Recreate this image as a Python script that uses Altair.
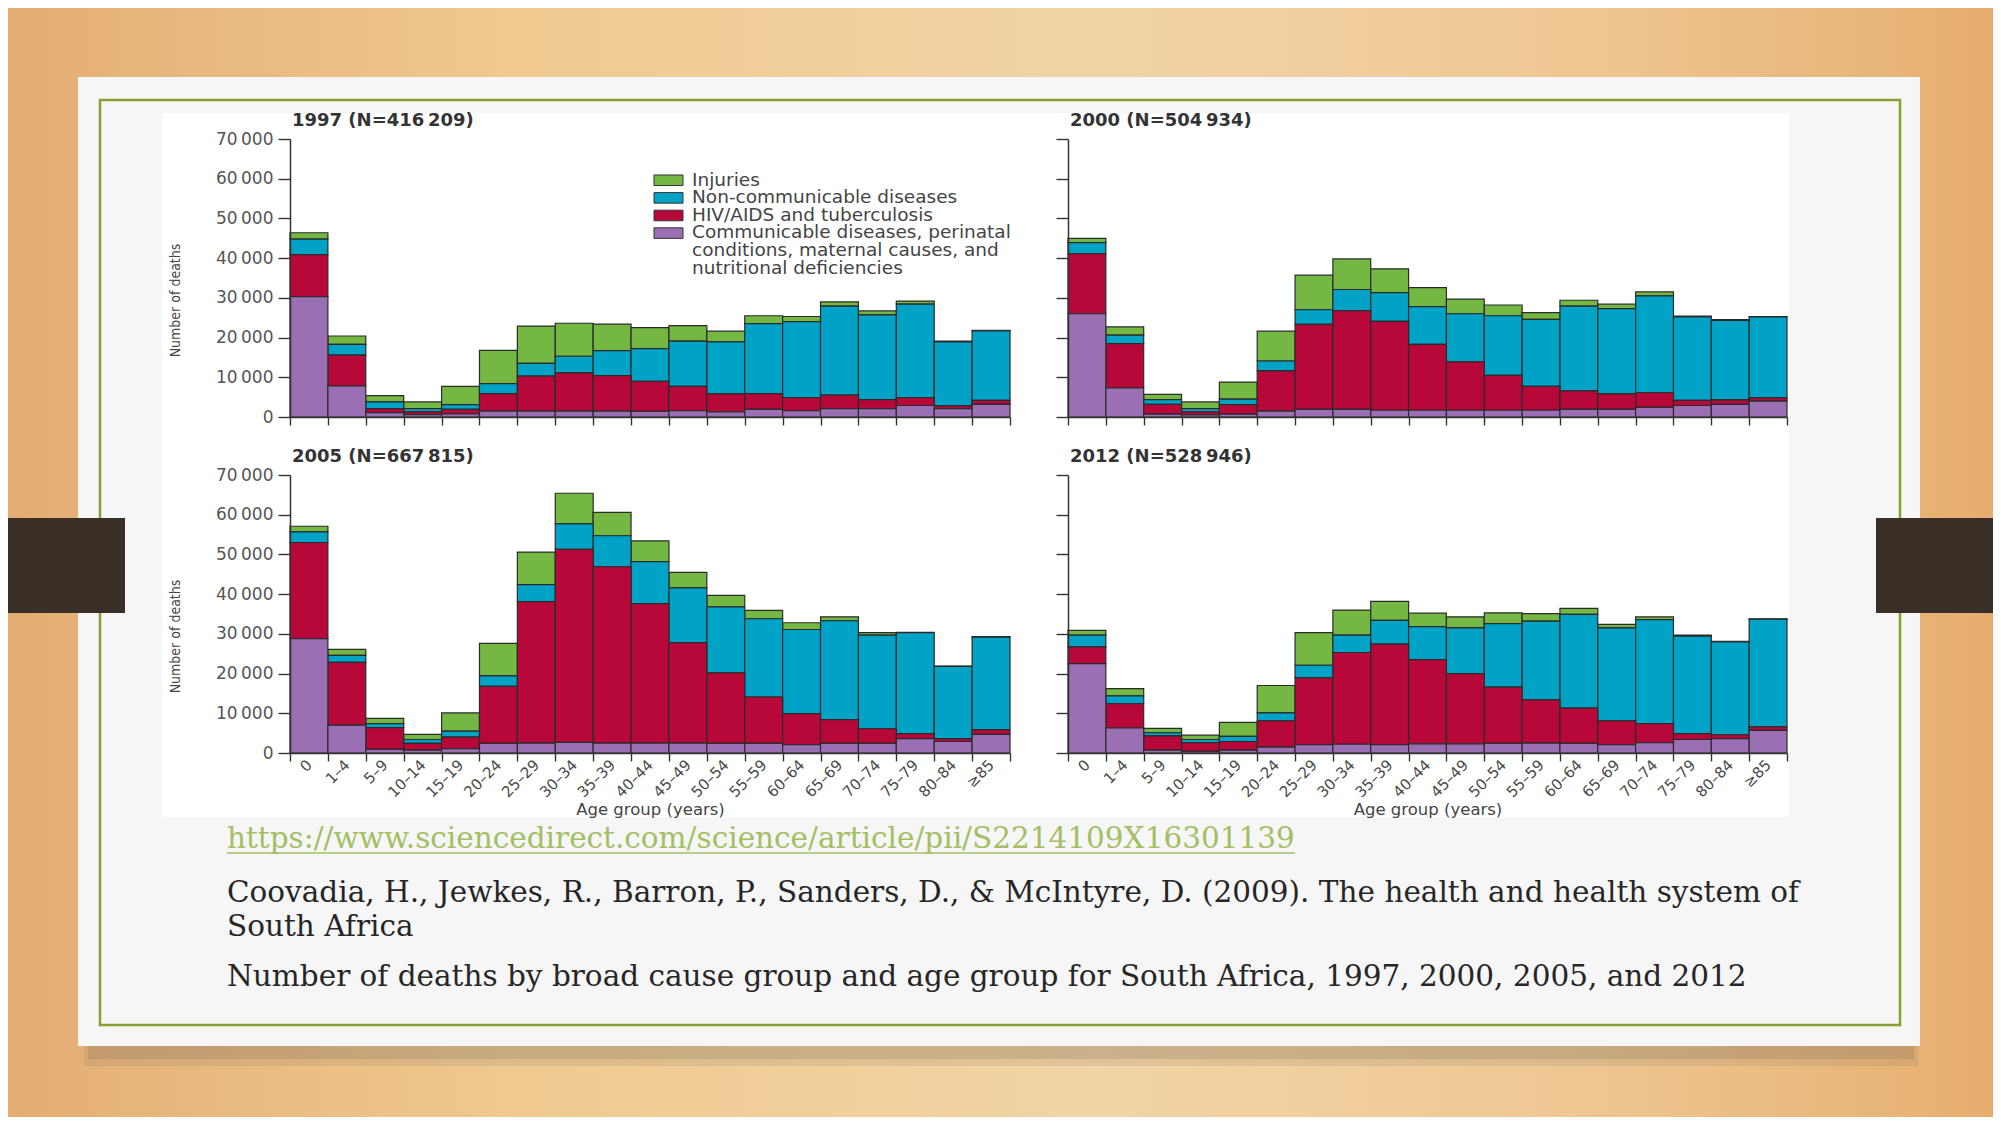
import altair as alt
import pandas as pd

# ---------------- data (deaths, in thousands) ----------------
ages = ["0", "1–4", "5–9", "10–14", "15–19", "20–24", "25–29", "30–34", "35–39",
        "40–44", "45–49", "50–54", "55–59", "60–64", "65–69", "70–74", "75–79",
        "80–84", "≥85"]

cause_names = [
    "Injuries",
    "Non-communicable diseases",
    "HIV/AIDS and tuberculosis",
    "Communicable diseases, perinatal conditions, maternal causes, and nutritional deficiencies",
]
cause_colors = ["#74b843", "#00a2c6", "#b70839", "#9a6fb3"]

legend_lines = ["Injuries", "Non-communicable diseases", "HIV/AIDS and tuberculosis",
                "Communicable diseases, perinatal", "conditions, maternal causes, and",
                "nutritional deficiencies"]

panel_titles = {"1997": "1997 (N=416\u2009209)", "2000": "2000 (N=504\u2009934)",
                "2005": "2005 (N=667\u2009815)", "2012": "2012 (N=528\u2009946)"}

inj_1997 = [1.6, 2.1, 1.6, 1.7, 4.6, 8.4, 9.4, 8.3, 6.7, 5.3, 3.9, 2.7, 2.0, 1.3, 1.1, 1.0, 0.8, 0.2, 0.1]
ncd_1997 = [3.9, 2.7, 1.7, 0.8, 1.2, 2.5, 3.2, 4.2, 6.3, 8.2, 11.4, 13.1, 17.6, 19.1, 22.4, 21.3, 23.5, 16.1, 17.5]
hiv_1997 = [10.6, 7.8, 1.0, 0.7, 1.1, 4.4, 8.8, 9.6, 8.9, 7.6, 6.1, 4.5, 4.0, 3.3, 3.4, 2.3, 2.0, 0.7, 1.0]
com_1997 = [30.3, 7.8, 1.1, 0.6, 0.8, 1.5, 1.5, 1.5, 1.5, 1.4, 1.6, 1.3, 1.9, 1.6, 2.1, 2.1, 2.9, 2.1, 3.2]

inj_2000 = [1.1, 2.1, 1.3, 1.7, 4.3, 7.5, 8.7, 7.7, 6.0, 4.8, 3.7, 2.7, 1.7, 1.5, 1.1, 1.0, 0.2, 0.2, 0.1]
ncd_2000 = [2.8, 2.1, 1.2, 0.8, 1.4, 2.5, 3.7, 5.3, 7.2, 9.5, 12.1, 15.0, 16.9, 21.3, 21.5, 24.4, 21.0, 20.0, 20.4]
hiv_2000 = [15.1, 11.2, 2.5, 0.8, 2.4, 10.1, 21.4, 24.9, 22.4, 16.6, 12.2, 8.8, 6.0, 4.7, 3.9, 3.7, 1.3, 1.1, 0.8]
com_2000 = [26.0, 7.3, 0.7, 0.5, 0.7, 1.5, 1.9, 1.9, 1.7, 1.7, 1.7, 1.7, 1.7, 1.9, 1.9, 2.4, 2.9, 3.2, 4.0]

inj_2005 = [1.4, 1.5, 1.3, 1.3, 4.6, 8.2, 8.2, 7.7, 5.9, 5.2, 3.9, 2.9, 2.1, 1.7, 1.0, 0.6, 0.1, 0.1, 0.1]
ncd_2005 = [2.7, 1.8, 1.0, 1.0, 1.5, 2.6, 4.3, 6.4, 7.8, 10.6, 13.8, 16.6, 19.7, 21.2, 24.9, 23.6, 25.4, 18.2, 23.3]
hiv_2005 = [24.2, 15.8, 5.5, 1.7, 2.9, 14.4, 35.6, 48.6, 44.4, 35.1, 25.3, 17.8, 11.7, 7.8, 6.0, 3.7, 1.3, 0.7, 1.2]
com_2005 = [28.8, 7.0, 0.9, 0.7, 1.1, 2.4, 2.5, 2.7, 2.5, 2.5, 2.5, 2.4, 2.4, 2.1, 2.4, 2.4, 3.6, 2.9, 4.7]

inj_2012 = [1.2, 1.8, 1.1, 1.1, 3.5, 6.9, 8.2, 6.3, 4.8, 3.4, 2.8, 2.7, 1.9, 1.5, 0.9, 0.7, 0.3, 0.1, 0.1]
ncd_2012 = [3.0, 2.0, 0.8, 0.8, 1.3, 2.0, 3.2, 4.4, 6.0, 8.3, 11.5, 16.0, 19.8, 23.6, 23.4, 26.2, 24.5, 23.4, 27.1]
hiv_2012 = [4.2, 6.1, 3.6, 2.2, 2.2, 6.6, 16.8, 23.1, 25.3, 21.2, 17.7, 14.2, 10.9, 8.9, 6.0, 4.8, 1.5, 1.0, 0.9]
com_2012 = [22.5, 6.3, 0.7, 0.4, 0.7, 1.5, 2.1, 2.2, 2.1, 2.3, 2.3, 2.4, 2.5, 2.4, 2.1, 2.6, 3.4, 3.6, 5.7]

series = {
    "1997": [inj_1997, ncd_1997, hiv_1997, com_1997],
    "2000": [inj_2000, ncd_2000, hiv_2000, com_2000],
    "2005": [inj_2005, ncd_2005, hiv_2005, com_2005],
    "2012": [inj_2012, ncd_2012, hiv_2012, com_2012],
}

rows = []
for year, lists in series.items():
    for k, (cause, vals) in enumerate(zip(cause_names, lists)):
        for age, v in zip(ages, vals):
            rows.append({"year": year, "age": age, "cause": cause,
                         "stack": 3 - k, "deaths": v * 1000})
df = pd.DataFrame(rows)

# ---------------- layout ----------------
W, H = 1985, 1109
one = pd.DataFrame({"k": [0]})
color_scale = alt.Scale(domain=cause_names, range=cause_colors)
CHART_FONT = "DejaVu Sans"
SERIF = "DejaVu Serif"
thin = "\u2009"
ylab_expr = "datum.value == 0 ? '0' : replace(format(datum.value, ','), ',', '" + thin + "')"


def rect(x, x2, y, y2, **kw):
    return alt.Chart(one).mark_rect(**kw).encode(
        x=alt.value(x), x2=alt.value(x2), y=alt.value(y), y2=alt.value(y2))


def text(t, x, y, **kw):
    return alt.Chart(one).mark_text(text=t, align="left", baseline="alphabetic", **kw).encode(
        x=alt.value(x), y=alt.value(y))


def panel(year, x0, x1, y0, y1, left, bottom):
    xa = dict(orient="bottom", offset=y0 - H, tickBand="extent", tickSize=8,
              tickColor="#333", tickWidth=1.4, domainColor="#333", domainWidth=1.5,
              labels=bottom, grid=False, zindex=1, labelOverlap=False)
    if bottom:
        xa.update(labelAngle=-45, labelAlign="right", labelBaseline="middle",
                  labelFont=CHART_FONT, labelFontSize=15, labelColor="#4a4a4a",
                  labelPadding=1, title="Age group (years)", titleY=48,
                  titleBaseline="top", titleFont=CHART_FONT, titleFontSize=16.5,
                  titleFontWeight="normal", titleColor="#444")
    else:
        xa.update(title=None)
    ya = dict(orient="left", offset=-x0, values=list(range(0, 70001, 10000)),
              tickSize=12, tickColor="#333", tickWidth=1.4, domainColor="#333",
              domainWidth=1.5, grid=False, zindex=1, labels=left)
    if left:
        ya.update(labelExpr=ylab_expr, labelFont=CHART_FONT, labelFontSize=17,
                  labelColor="#555", labelPadding=5, labelFlush=False,
                  title="Number of deaths", titleX=167 - x0,
                  titleY=(y0 + y1) / 2 + 22, titleAngle=-90,
                  titleFont="Liberation Sans Narrow, DejaVu Sans Condensed, sans-serif",
                  titleFontSize=14, titleFontWeight="normal", titleColor="#444",
                  titleAlign="center", titleBaseline="middle")
    else:
        ya.update(title=None)
    bars = alt.Chart(df).transform_filter(alt.datum.year == year).mark_bar(
        stroke="#2b2b2b", strokeWidth=1.2).encode(
        x=alt.X("age:N", scale=alt.Scale(domain=ages, range=[x0, x1],
                                         paddingInner=0, paddingOuter=0),
                axis=alt.Axis(**xa)),
        y=alt.Y("deaths:Q", stack="zero",
                scale=alt.Scale(domain=[0, 70000], range=[y0, y1], nice=False),
                axis=alt.Axis(**ya)),
        color=alt.Color("cause:N", scale=color_scale, legend=None),
        order=alt.Order("stack:Q", sort="ascending"),
    )
    title = text(panel_titles[year], x0 + 2, y1 - 13, font=CHART_FONT,
                 fontSize=18, fontWeight="bold", color="#333")
    return [bars, title]


wood = alt.LinearGradient(
    gradient="linear", x1=0, x2=1, y1=0, y2=0,
    stops=[alt.GradientStop(color="#e4ad72", offset=0),
           alt.GradientStop(color="#efc990", offset=0.25),
           alt.GradientStop(color="#f2d4a5", offset=0.55),
           alt.GradientStop(color="#eec692", offset=0.8),
           alt.GradientStop(color="#e6ae6e", offset=1)])

layers = [
    rect(0, W, 0, H, fill=wood),
    rect(76, 1910, 1030, 1058, fill="#7a6a5a", opacity=0.15),
    rect(80, 1906, 1030, 1051, fill="#7a6a5a", opacity=0.2),
    rect(70, 1912, 69, 1038, fill="#f6f6f6"),
    rect(92, 1892, 92, 1017, fillOpacity=0, stroke="#86a034", strokeWidth=2.5),
    rect(154, 1781, 105, 809, fill="#ffffff"),
    rect(0, 117, 510, 605, fill="#3a2f27"),
    rect(1868, W, 510, 605, fill="#3a2f27"),
]

layers += panel("1997", 282, 1002, 409, 131, True, False)
layers += panel("2000", 1060, 1779, 409, 131, False, False)
layers += panel("2005", 282, 1002, 745, 467, True, True)
layers += panel("2012", 1060, 1779, 745, 467, False, True)

# legend (drawn inside the 1997 panel)
leg_df = pd.DataFrame({"cause": cause_names, "row": [0, 1, 2, 3]})
leg_df["row2"] = leg_df["row"] + 0.6
leg_txt = pd.DataFrame({"line": legend_lines, "row": list(range(6))})
leg_txt["pos"] = leg_txt["row"] + 0.6
leg_scale = alt.Scale(domain=[0, 6], range=[167, 167 + 6 * 17.6], nice=False, zero=False)

layers.append(alt.Chart(leg_df).mark_rect(stroke="#333", strokeWidth=1).encode(
    x=alt.value(646), x2=alt.value(675),
    y=alt.Y("row:Q", scale=leg_scale, axis=None), y2="row2:Q",
    color=alt.Color("cause:N", scale=color_scale, legend=None)))
layers.append(alt.Chart(leg_txt).mark_text(
    align="left", baseline="alphabetic", font=CHART_FONT, fontSize=18.5,
    color="#444").encode(
    x=alt.value(684), y=alt.Y("pos:Q", scale=leg_scale, axis=None), text="line:N"))

# slide text
link = "https://www.sciencedirect.com/science/article/pii/S2214109X16301139"
FS = 29.5
layers += [
    text(link, 219, 840, font=SERIF, fontSize=FS, color="#a3bf63"),
    alt.Chart(one).mark_rule(color="#a3bf63", strokeWidth=1.5).encode(
        x=alt.value(219), x2=alt.value(1287), y=alt.value(845)),
    text("Coovadia, H., Jewkes, R., Barron, P., Sanders, D., & McIntyre, D. (2009). "
         "The health and health system of", 219, 894, font=SERIF, fontSize=FS, color="#262626"),
    text("South Africa", 219, 928, font=SERIF, fontSize=FS, color="#262626"),
    text("Number of deaths by broad cause group and age group for South Africa, "
         "1997, 2000, 2005, and 2012", 219, 978, font=SERIF, fontSize=FS, color="#262626"),
]

chart = alt.layer(*layers).resolve_scale(
    x="independent", y="independent", color="shared"
).properties(
    width=W, height=H, padding=0, autosize="none", background="#eecb96"
).configure_view(stroke=None)

chart.save("out.html", embed_options={"renderer": "svg", "actions": False})
